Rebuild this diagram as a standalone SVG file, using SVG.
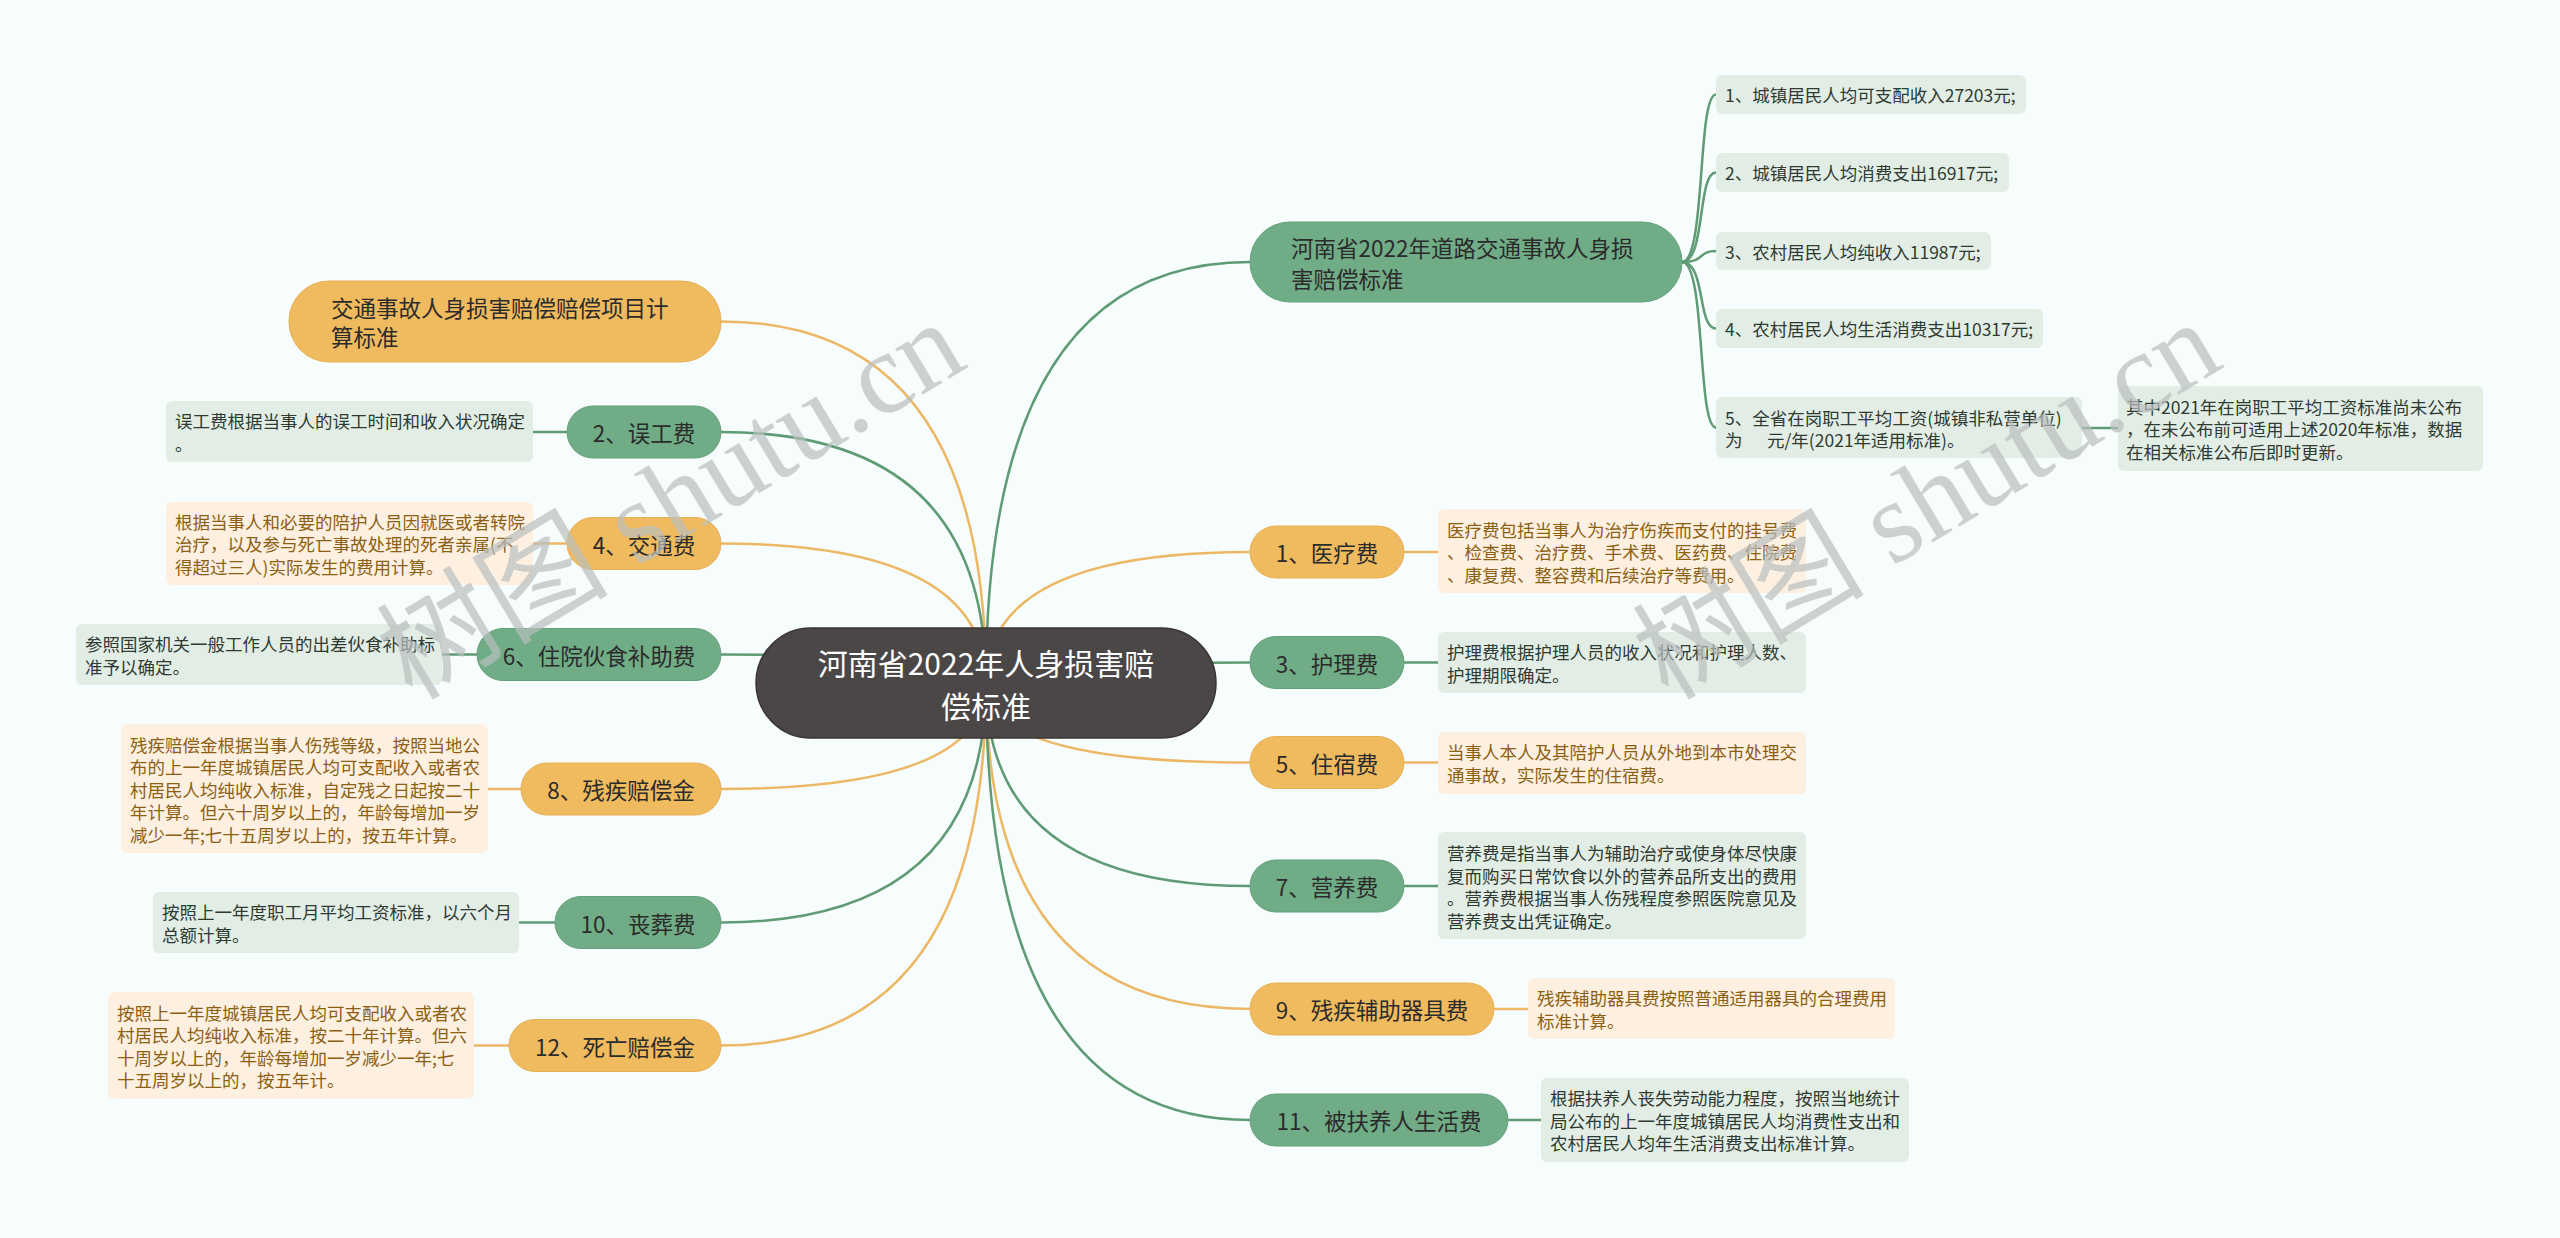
<svg xmlns="http://www.w3.org/2000/svg" width="2560" height="1238" viewBox="0 0 2560 1238">
<style>
text{font-family:"Noto Sans CJK SC","Noto Sans",sans-serif;dominant-baseline:central}
.g{fill:#70ad87;stroke:#63a07b;stroke-width:1}
.o{fill:#f0bb5f;stroke:#e6b055;stroke-width:1}
.lg{fill:#e2eee5}
.lo{fill:#fdf0e1}
.pt{font-size:22.5px;fill:#2b2b2b;text-anchor:middle}
.bt{font-size:22.5px;fill:#2b2b2b}
.tg{font-size:17.5px;fill:#2f3a33}
.to{font-size:17.5px;fill:#8c5f12}
.cg{fill:none;stroke:#5f9b75;stroke-width:2.5}
.co{fill:none;stroke:#ecb866;stroke-width:2.5}
.wm{font-family:"Liberation Serif","Noto Sans CJK SC",serif;font-size:116px;fill:#b9bfbf;opacity:0.7}
</style>
<rect width="2560" height="1238" fill="#f7fcfc"/>
<g id="connectors">
<path class="cg" d="M986,683 Q986,262 1250,262"/>
<path class="co" d="M986,683 Q986,552 1250,552"/>
<path class="cg" d="M986,683 Q986,662.5 1250,662.5"/>
<path class="co" d="M986,683 Q986,762.5 1250,762.5"/>
<path class="cg" d="M986,683 Q986,886 1250,886"/>
<path class="co" d="M986,683 Q986,1009 1250,1009"/>
<path class="cg" d="M986,683 Q986,1120 1250,1120"/>
<path class="co" d="M986,683 Q986,321.5 721,321.5"/>
<path class="cg" d="M986,683 Q986,432 721,432"/>
<path class="co" d="M986,683 Q986,543.5 721,543.5"/>
<path class="cg" d="M986,683 Q986,654.5 721,654.5"/>
<path class="co" d="M986,683 Q986,789 721,789"/>
<path class="cg" d="M986,683 Q986,922.5 721,922.5"/>
<path class="co" d="M986,683 Q986,1045.5 721,1045.5"/>
<path class="co" d="M1404,552 H1438"/>
<path class="cg" d="M1404,662.5 H1438"/>
<path class="co" d="M1404,762.5 H1438"/>
<path class="cg" d="M1404,886 H1438"/>
<path class="co" d="M1494,1009 H1528"/>
<path class="cg" d="M1508,1120 H1541"/>
<path class="cg" d="M567,432 H533"/>
<path class="co" d="M567,543.5 H533"/>
<path class="cg" d="M477,654.5 H442"/>
<path class="co" d="M521,789 H488"/>
<path class="cg" d="M555,922.5 H519"/>
<path class="co" d="M509,1045.5 H474"/>
<path class="cg" d="M1682,262 C1706,262 1697,94.5 1716,94.5"/>
<path class="cg" d="M1682,262 C1706,262 1697,172.5 1716,172.5"/>
<path class="cg" d="M1682,262 C1706,262 1697,251 1716,251"/>
<path class="cg" d="M1682,262 C1706,262 1697,328.5 1716,328.5"/>
<path class="cg" d="M1682,262 C1706,262 1697,427.5 1716,427.5"/>
<path class="cg" d="M2082,428 H2118"/>
</g>
<g id="center">
<rect x="756" y="628" width="460" height="110" rx="55" fill="#4b4747" stroke="#3a3636" stroke-width="1.5"/>
<text x="986" y="662" font-size="30" fill="#ffffff" text-anchor="middle">河南省2022年人身损害赔</text>
<text x="986" y="705" font-size="30" fill="#ffffff" text-anchor="middle">偿标准</text>
</g>
<g id="n-henan">
<rect class="g" x="1250" y="222" width="432" height="80" rx="40"/>
<text class="bt" x="1291" y="247">河南省2022年道路交通事故人身损</text>
<text class="bt" x="1291" y="278">害赔偿标准</text>
</g>
<g id="n-a1"><rect class="lg" x="1716" y="75" width="310" height="39" rx="6"/><text class="tg" x="1725" y="94.5">1、城镇居民人均可支配收入27203元;</text></g>
<g id="n-a2"><rect class="lg" x="1716" y="153" width="293" height="39" rx="6"/><text class="tg" x="1725" y="172.5">2、城镇居民人均消费支出16917元;</text></g>
<g id="n-a3"><rect class="lg" x="1716" y="232" width="275" height="38" rx="6"/><text class="tg" x="1725" y="251">3、农村居民人均纯收入11987元;</text></g>
<g id="n-a4"><rect class="lg" x="1716" y="309" width="327" height="39" rx="6"/><text class="tg" x="1725" y="328.5">4、农村居民人均生活消费支出10317元;</text></g>
<g id="n-a5"><rect class="lg" x="1716" y="397" width="366" height="61" rx="6"/><text class="tg" x="1725" y="417">5、全省在岗职工平均工资(城镇非私营单位)</text><text class="tg" y="439"><tspan x="1725">为</tspan><tspan x="1767">元/年(2021年适用标准)。</tspan></text></g>
<g id="n-a5note"><rect class="lg" x="2118" y="386" width="365" height="85" rx="6"/><text class="tg" x="2126" y="406">其中2021年在岗职工平均工资标准尚未公布</text><text class="tg" x="2126" y="428.5">，在未公布前可适用上述2020年标准，数据</text><text class="tg" x="2126" y="451">在相关标准公布后即时更新。</text></g>
<g id="n-r1"><rect class="o" x="1250" y="526" width="154" height="52" rx="26"/><text class="pt" x="1327" y="552">1、医疗费</text></g>
<g id="n-r1leaf"><rect class="lo" x="1438" y="509" width="368" height="84" rx="6"/><text class="to" x="1447" y="529">医疗费包括当事人为治疗伤疾而支付的挂号费</text><text class="to" x="1447" y="551.5">、检查费、治疗费、手术费、医药费、住院费</text><text class="to" x="1447" y="574">、康复费、整容费和后续治疗等费用。</text></g>
<g id="n-r3"><rect class="g" x="1250" y="636.5" width="154" height="52" rx="26"/><text class="pt" x="1327" y="662.5">3、护理费</text></g>
<g id="n-r3leaf"><rect class="lg" x="1438" y="632" width="368" height="61" rx="6"/><text class="tg" x="1447" y="651.5">护理费根据护理人员的收入状况和护理人数、</text><text class="tg" x="1447" y="674">护理期限确定。</text></g>
<g id="n-r5"><rect class="o" x="1250" y="736.5" width="154" height="52" rx="26"/><text class="pt" x="1327" y="762.5">5、住宿费</text></g>
<g id="n-r5leaf"><rect class="lo" x="1438" y="732" width="368" height="62" rx="6"/><text class="to" x="1447" y="751.5">当事人本人及其陪护人员从外地到本市处理交</text><text class="to" x="1447" y="774">通事故，实际发生的住宿费。</text></g>
<g id="n-r7"><rect class="g" x="1250" y="860" width="154" height="52" rx="26"/><text class="pt" x="1327" y="886">7、营养费</text></g>
<g id="n-r7leaf"><rect class="lg" x="1438" y="832" width="368" height="107" rx="6"/><text class="tg" x="1447" y="852.5">营养费是指当事人为辅助治疗或使身体尽快康</text><text class="tg" x="1447" y="875">复而购买日常饮食以外的营养品所支出的费用</text><text class="tg" x="1447" y="897.5">。营养费根据当事人伤残程度参照医院意见及</text><text class="tg" x="1447" y="920">营养费支出凭证确定。</text></g>
<g id="n-r9"><rect class="o" x="1250" y="983" width="244" height="52" rx="26"/><text class="pt" x="1372" y="1009">9、残疾辅助器具费</text></g>
<g id="n-r9leaf"><rect class="lo" x="1528" y="978" width="367" height="61" rx="6"/><text class="to" x="1537" y="997.5">残疾辅助器具费按照普通适用器具的合理费用</text><text class="to" x="1537" y="1020">标准计算。</text></g>
<g id="n-r11"><rect class="g" x="1250" y="1094" width="258" height="52" rx="26"/><text class="pt" x="1379" y="1120">11、被扶养人生活费</text></g>
<g id="n-r11leaf"><rect class="lg" x="1541" y="1078" width="368" height="84" rx="6"/><text class="tg" x="1550" y="1097.5">根据扶养人丧失劳动能力程度，按照当地统计</text><text class="tg" x="1550" y="1120">局公布的上一年度城镇居民人均消费性支出和</text><text class="tg" x="1550" y="1142.5">农村居民人均年生活消费支出标准计算。</text></g>
<g id="n-l0"><rect class="o" x="289" y="281" width="432" height="81" rx="40"/><text class="bt" x="331" y="306.5">交通事故人身损害赔偿赔偿项目计</text><text class="bt" x="331" y="336">算标准</text></g>
<g id="n-l2"><rect class="g" x="567" y="406" width="154" height="52" rx="26"/><text class="pt" x="644" y="432">2、误工费</text></g>
<g id="n-l2leaf"><rect class="lg" x="166" y="401" width="367" height="61" rx="6"/><text class="tg" x="175" y="420.5">误工费根据当事人的误工时间和收入状况确定</text><text class="tg" x="175" y="443">。</text></g>
<g id="n-l4"><rect class="o" x="567" y="517.5" width="154" height="52" rx="26"/><text class="pt" x="644" y="543.5">4、交通费</text></g>
<g id="n-l4leaf"><rect class="lo" x="166" y="502" width="367" height="83" rx="6"/><text class="to" x="175" y="521">根据当事人和必要的陪护人员因就医或者转院</text><text class="to" x="175" y="543.5">治疗，以及参与死亡事故处理的死者亲属(不</text><text class="to" x="175" y="566">得超过三人)实际发生的费用计算。</text></g>
<g id="n-l6"><rect class="g" x="477" y="628.5" width="244" height="52" rx="26"/><text class="pt" x="599" y="654.5">6、住院伙食补助费</text></g>
<g id="n-l6leaf"><rect class="lg" x="76" y="624" width="366" height="61" rx="6"/><text class="tg" x="85" y="643.5">参照国家机关一般工作人员的出差伙食补助标</text><text class="tg" x="85" y="666">准予以确定。</text></g>
<g id="n-l8"><rect class="o" x="521" y="763" width="200" height="52" rx="26"/><text class="pt" x="621" y="789">8、残疾赔偿金</text></g>
<g id="n-l8leaf"><rect class="lo" x="121" y="724" width="367" height="129" rx="6"/><text class="to" x="130" y="744">残疾赔偿金根据当事人伤残等级，按照当地公</text><text class="to" x="130" y="766.5">布的上一年度城镇居民人均可支配收入或者农</text><text class="to" x="130" y="789">村居民人均纯收入标准，自定残之日起按二十</text><text class="to" x="130" y="811.5">年计算。但六十周岁以上的，年龄每增加一岁</text><text class="to" x="130" y="834">减少一年;七十五周岁以上的，按五年计算。</text></g>
<g id="n-l10"><rect class="g" x="555" y="896.5" width="166" height="52" rx="26"/><text class="pt" x="638" y="922.5">10、丧葬费</text></g>
<g id="n-l10leaf"><rect class="lg" x="153" y="892" width="366" height="61" rx="6"/><text class="tg" x="162" y="911.5">按照上一年度职工月平均工资标准，以六个月</text><text class="tg" x="162" y="934">总额计算。</text></g>
<g id="n-l12"><rect class="o" x="509" y="1019.5" width="212" height="52" rx="26"/><text class="pt" x="615" y="1045.5">12、死亡赔偿金</text></g>
<g id="n-l12leaf"><rect class="lo" x="108" y="992" width="366" height="107" rx="6"/><text class="to" x="117" y="1012">按照上一年度城镇居民人均可支配收入或者农</text><text class="to" x="117" y="1034.5">村居民人均纯收入标准，按二十年计算。但六</text><text class="to" x="117" y="1057">十周岁以上的，年龄每增加一岁减少一年;七</text><text class="to" x="117" y="1079.5">十五周岁以上的，按五年计。</text></g>
<g id="watermarks">
<text class="wm" transform="translate(392,668) rotate(-31)">树图 shutu.cn</text>
<text class="wm" transform="translate(1648,668) rotate(-31)">树图 shutu.cn</text>
</g>
</svg>
